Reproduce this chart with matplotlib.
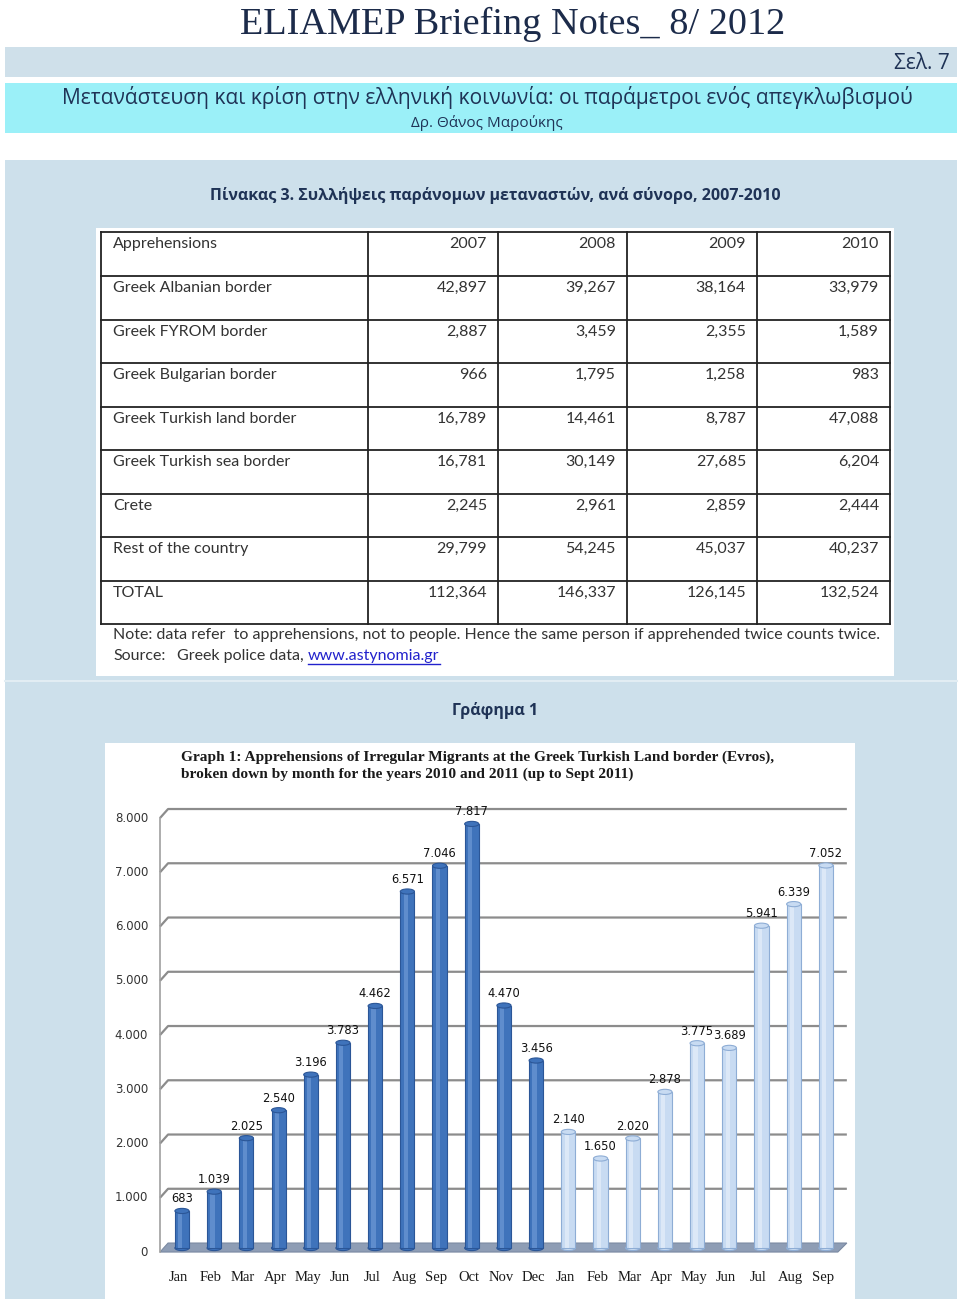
#ELIAMEP briefing page with table 3 and graph 1

#importing the libraries
import numpy as np
import matplotlib
matplotlib.use('Agg')
import matplotlib.pyplot as plt
from matplotlib.patches import Rectangle, Polygon, Ellipse

#Table data
row_names = ['Greek Albanian border', 'Greek FYROM border', 'Greek Bulgarian border',
             'Greek Turkish land border', 'Greek Turkish sea border', 'Crete',
             'Rest of the country', 'TOTAL']
years = ['2007', '2008', '2009', '2010']
v2007 = [42897, 2887, 966, 16789, 16781, 2245, 29799, 112364]
v2008 = [39267, 3459, 1795, 14461, 30149, 2961, 54245, 146337]
v2009 = [38164, 2355, 1258, 8787, 27685, 2859, 45037, 126145]
v2010 = [33979, 1589, 983, 47088, 6204, 2444, 40237, 132524]

#Graph data
months = ['Jan', 'Feb', 'Mar', 'Apr', 'May', 'Jun', 'Jul', 'Aug', 'Sep', 'Oct', 'Nov', 'Dec',
          'Jan', 'Feb', 'Mar', 'Apr', 'May', 'Jun', 'Jul', 'Aug', 'Sep']
arrests_2010 = [683, 1039, 2025, 2540, 3196, 3783, 4462, 6571, 7046, 7817, 4470, 3456]
arrests_2011 = [2140, 1650, 2020, 2878, 3775, 3689, 5941, 6339, 7052]
y_ticks = [0, 1000, 2000, 3000, 4000, 5000, 6000, 7000, 8000]

GREEK = ['Open Sans', 'DejaVu Sans']
NAVY = '#1f3356'

def dotfmt(v):
    return '{:,}'.format(v).replace(',', '.')

fig = plt.figure(figsize=(9.6, 12.99), dpi=100)

# page layer in pixel coordinates
pg = fig.add_axes([0, 0, 1, 1])
pg.set_xlim(0, 960)
pg.set_ylim(1299, 0)
pg.axis('off')

#header
pg.text(513, 24, 'ELIAMEP Briefing Notes_ 8/ 2012', family='Liberation Serif', fontsize=27.5,
        color='#1c2b4a', ha='center', va='center')
pg.add_patch(Rectangle((5, 47), 952, 30, color='#cfe0ea', lw=0))
pg.text(950, 63, 'Σελ. 7', family=GREEK, fontsize=15, color=NAVY, ha='right', va='center')
pg.add_patch(Rectangle((5, 83), 952, 50, color='#9bf0f8', lw=0))
pg.text(487, 97, 'Μετανάστευση και κρίση στην ελληνική κοινωνία: οι παράμετροι ενός απεγκλωβισμού',
        family=GREEK, fontsize=15.1, color=NAVY, ha='center', va='center')
pg.text(487, 123, 'Δρ. Θάνος Μαρούκης', family=GREEK, fontsize=11, color=NAVY,
        ha='center', va='center')

#big panel
pg.add_patch(Rectangle((5, 160), 952, 1139, color='#cde0eb', lw=0))
pg.text(495, 195, 'Πίνακας 3. Συλλήψεις παράνομων μεταναστών, ανά σύνορο, 2007-2010',
        family=GREEK, fontsize=11.5, fontweight='bold', color=NAVY, ha='center', va='center')

#table
pg.add_patch(Rectangle((96, 228), 798, 448, color='white', lw=0))
col_x = [101, 368, 498, 627, 757, 890]
row_y = [232, 276, 320, 363, 407, 450, 494, 537, 581, 624]
for x in col_x:
    pg.plot([x, x], [row_y[0], row_y[-1]], color='#222222', lw=1.3)
for y in row_y:
    pg.plot([col_x[0], col_x[-1]], [y, y], color='#222222', lw=1.3)

tfont = dict(family=['Lato', 'DejaVu Sans'], fontsize=11.5, color='#333333', va='center')
pg.text(col_x[0] + 12, row_y[0] + 12, 'Apprehensions', **tfont)
for j, yr in enumerate(years):
    pg.text(col_x[j + 2] - 11, row_y[0] + 12, yr, ha='right', **tfont)
cols = [v2007, v2008, v2009, v2010]
for i, name in enumerate(row_names):
    pg.text(col_x[0] + 12, row_y[i + 1] + 12, name, **tfont)
    for j, c in enumerate(cols):
        pg.text(col_x[j + 2] - 11, row_y[i + 1] + 12, '{:,}'.format(c[i]), ha='right', **tfont)

pg.text(113, 635, 'Note: data refer  to apprehensions, not to people. Hence the same person if '
        'apprehended twice counts twice.', **tfont)
pg.text(113, 656, 'Source:', **tfont)
pg.text(177, 656, 'Greek police data,', **tfont)
link = pg.text(308, 656, 'www.astynomia.gr', family=['Lato', 'DejaVu Sans'], fontsize=11.5,
               color='#2222cc', va='center')
fig.canvas.draw()
bb = link.get_window_extent().transformed(pg.transData.inverted())
pg.plot([bb.x0, bb.x1], [664, 664], color='#2222cc', lw=1)

pg.plot([5, 957], [681, 681], color='#e2edf3', lw=1.5)
pg.text(495, 710, 'Γράφημα 1', family=GREEK, fontsize=11.5, fontweight='bold', color=NAVY,
        ha='center', va='center')

#chart box
pg.add_patch(Rectangle((105, 743), 750, 556, color='white', lw=0))
sfont = dict(family='Liberation Serif', fontsize=11.1, fontweight='bold', color='#1a1a1a')
pg.text(181, 757, 'Graph 1: Apprehensions of Irregular Migrants at the Greek Turkish Land border (Evros),',
        va='center', **sfont)
pg.text(181, 774, 'broken down by month for the years 2010 and 2011 (up to Sept 2011)',
        va='center', **sfont)

# bar chart
ax = fig.add_axes([150 / 960, 1 - 1258 / 1299, 702 / 960, 453 / 1299])
ax.set_xlim(-0.994, 20.81)
ax.set_ylim(-276, 8074)
ax.axis('off')

dx = 0.25   # perspective shift in bar units
dy = 166    # perspective drop in value units
x_left = -0.683
x_right = 20.37
mid = 92    # bars stand half way into the floor depth

# gridlines
for v in y_ticks[1:]:
    ax.plot([x_left, x_left + dx, x_right + dx + 0.03], [v - dy, v, v], color='#8c8c8c', lw=1.6,
            solid_capstyle='butt')
ax.plot([x_left, x_left], [-dy, y_ticks[-1] - dy], color='#a0a0a0', lw=1.2)

# floor
ax.add_patch(Polygon([[x_left, -dy], [x_right, -dy], [x_right + dx + 0.03, 0], [x_left + dx, 0]],
                     closed=True, facecolor='#8e9db5', edgecolor='#7a89a2', lw=0.8))

# y labels
for v in y_ticks:
    ax.text(x_left - 0.37, v - dy, dotfmt(v), ha='right', va='center', fontsize=8.5,
            color='#333333', family='DejaVu Sans')

bw = 0.44
x10 = np.arange(len(arrests_2010))
x11 = np.arange(len(arrests_2010), len(months))

def cylinders(xs, vals, face, edge, light):
    tops = np.array(vals) - mid
    ax.bar(xs, vals, bottom=-mid, width=bw, color=face, edgecolor=edge, lw=0.8, zorder=3)
    ax.bar(xs - bw * 0.12, vals, bottom=-mid, width=bw * 0.3, color=light, lw=0, alpha=0.55,
           zorder=4)
    for x, v, t in zip(xs, vals, tops):
        ax.add_patch(Ellipse((x, t), bw, 95, facecolor=face, edgecolor=edge, lw=0.8, zorder=5))
        ax.add_patch(Ellipse((x, -mid), bw, 95, facecolor=face, edgecolor=edge, lw=0.8, zorder=2))
        ax.annotate(dotfmt(v), (x, t), xytext=(0, 4), textcoords='offset points', ha='center',
                    va='bottom', fontsize=8.3, color='#111111', family='DejaVu Sans', zorder=6)

cylinders(x10, arrests_2010, '#3f73bb', '#2b5697', '#7aa3dc')
cylinders(x11, arrests_2011, '#c8dbf2', '#8eadd5', '#eef4fc')

for i, m in enumerate(months):
    ax.text(i - 0.1, -640, m, ha='center', va='center', family='Liberation Serif', fontsize=10.5,
            color='#1a1a1a')

plt.savefig('out.png', dpi=100)
